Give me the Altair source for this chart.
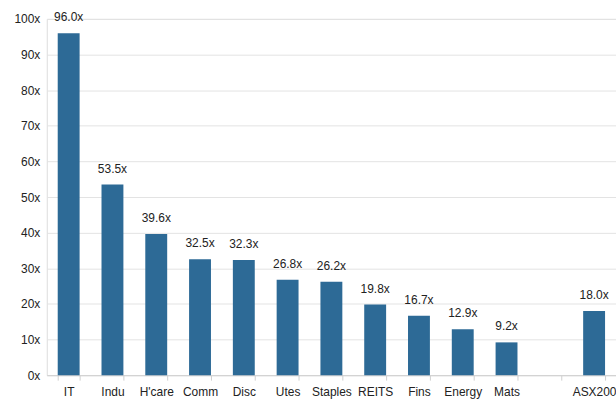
import altair as alt
import pandas as pd

# Forward P/E by sector, ASX200 shown apart after a blank slot
sectors = ["IT", "Indu", "H'care", "Comm", "Disc", "Utes", "Staples",
           "REITS", "Fins", "Energy", "Mats", "ASX200"]
pe = [96.0, 53.5, 39.6, 32.5, 32.3, 26.8, 26.2, 19.8, 16.7, 12.9, 9.2, 18.0]
slots = sectors[:11] + [" "] + sectors[11:]

df = pd.DataFrame({"sector": sectors, "pe": pe})

x = alt.X("sector:N", sort=slots,
          scale=alt.Scale(domain=slots, paddingInner=0.5, paddingOuter=0.25),
          axis=alt.Axis(title=None, labelAngle=0, labelFont="Liberation Sans",
                        labelFontSize=12, labelColor="#222", labelPadding=6,
                        domainColor="#d0d0d0", tickColor="#d0d0d0", tickSize=5,
                        tickBand="extent", grid=False))
y = alt.Y("pe:Q", scale=alt.Scale(domain=[0, 100], nice=False),
          axis=alt.Axis(title=None, values=list(range(0, 101, 10)),
                        labelExpr="datum.value + 'x'", labelFont="Liberation Sans",
                        labelFontSize=12, labelColor="#222", labelPadding=7,
                        domain=False, ticks=False, gridColor="#e3e3e3"))

base = alt.Chart(df).encode(x=x, y=y)
bars = base.mark_bar(color="#2D6A96")
labels = base.transform_calculate(
    lab="format(datum.pe, '.1f') + 'x'"
).mark_text(baseline="bottom", dy=-9, font="Liberation Sans", fontSize=12,
            color="#222").encode(text="lab:N")

chart = (bars + labels).properties(
    width=572, height=358,
    autosize=alt.AutoSizeParams(type="none"),
    padding={"left": 47, "top": 18, "right": 0, "bottom": 27},
).configure_view(stroke=None).configure(background="white")

chart.save("out.html", embed_options={"renderer": "svg", "actions": False})
